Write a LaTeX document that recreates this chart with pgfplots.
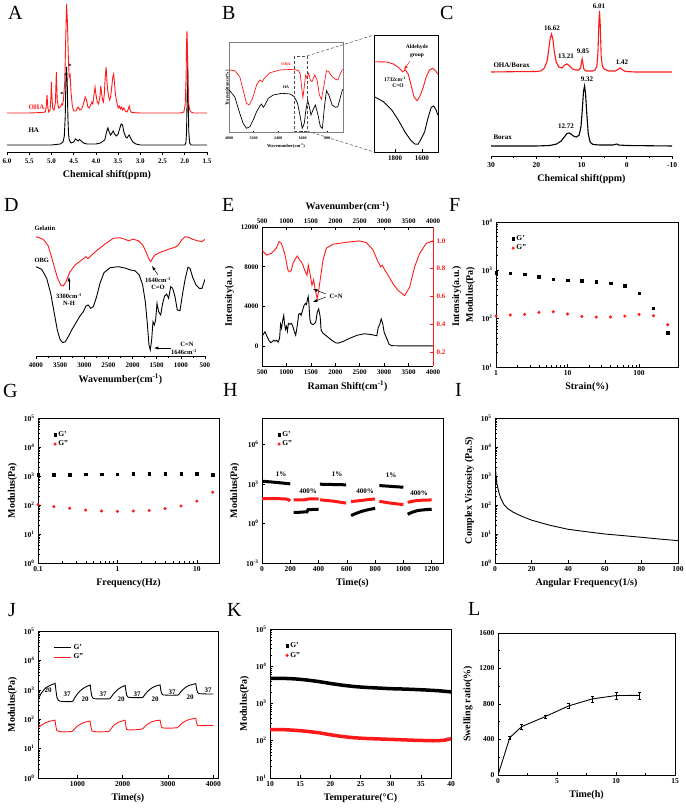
\documentclass[border=0pt]{standalone}
\usepackage{fontspec}
\setmainfont{Liberation Serif}
\usepackage{pgfplots}
\pgfplotsset{compat=1.18}
\definecolor{rd}{RGB}{255,25,25}
\newcommand{\tl}{\bfseries\fontsize{7.5}{8}\selectfont}
\newcommand{\ts}{\bfseries\fontsize{7}{8}\selectfont}
\newcommand{\al}{\bfseries\fontsize{10}{11}\selectfont}
\newcommand{\an}{\bfseries\fontsize{6.5}{7}\selectfont}
\newcommand{\pl}{\fontsize{20}{20}\selectfont}
\pgfplotsset{
  base/.style={scale only axis, anchor=south west,
    /pgf/number format/assume math mode=true,
    /pgf/number format/1000 sep={},
    scaled ticks=false,
    tick label style={font=\tl},
    label style={font=\al},
    axis line style={-, line width=0.8pt},
    tick style={black, line width=0.6pt},
    major tick length=3pt, minor tick length=1.8pt,
    xtick pos=bottom, ytick pos=left,
    legend style={draw=none, fill=none, font=\tl, row sep=-1pt, inner sep=1pt},
    legend cell align=left,
  },
  nmr/.style={base, axis x line*=bottom, axis y line=none, ytick=\empty, tick align=outside},
  bk/.style={black, line width=0.9pt},
  rl/.style={rd, line width=0.9pt},
  sq/.style={only marks, mark=square*, mark size=1.25pt, black},
  ci/.style={only marks, mark=*, mark size=1.35pt, rd},
}
\begin{document}
\begin{tikzpicture}[x=1pt,y=-1pt]
\useasboundingbox (0,0) rectangle (685,810);
% ---------------- A
\begin{axis}[nmr, at={(7pt,-152pt)}, width=200pt, height=148pt, xmin=1.5, xmax=6.0, x dir=reverse, ymin=0, ymax=148,
  xtick={1.5,2,...,6}, xticklabel={\pgfmathprintnumber[fixed,fixed zerofill,precision=1]{\tick}},
  tick label style={font=\ts}, xlabel={Chemical shift(ppm)}]
\addplot[bk] coordinates {(6.0,7)(5.0,7)(4.8,8)(4.74,10)(4.71,16)(4.69,35)(4.675,70)(4.66,85)(4.645,70)(4.63,35)(4.615,18)(4.60,12)(4.56,9)(4.5,10)(4.46,13)(4.43,12)(4.40,11)(4.37,12.5)(4.33,11)(4.28,9)(4.2,8)(4.0,8)(3.9,9)(3.8,12)(3.76,20)(3.73,24)(3.70,20)(3.67,17)(3.64,19)(3.61,21)(3.58,18)(3.54,16)(3.50,18)(3.46,24)(3.43,28)(3.40,27)(3.37,20)(3.33,15)(3.30,14)(3.27,16)(3.25,17)(3.22,14)(3.17,10)(3.1,8)(3.0,7)(2.5,7)(2.0,7)(1.975,9)(1.96,20)(1.945,60)(1.935,90)(1.925,60)(1.91,20)(1.89,9)(1.86,7)(1.5,7)};
\addplot[rl] coordinates {(6.0,39)(5.5,39)(5.2,39.5)(5.14,40)(5.12,44)(5.10,57)(5.08,44)(5.06,40)(5.03,42)(5.01,56)(5.00,70)(4.99,56)(4.97,43)(4.94,42)(4.91,50)(4.89,80)(4.87,52)(4.84,44)(4.80,45)(4.77,48)(4.75,47)(4.73,52)(4.70,70)(4.68,110)(4.66,148)(4.64,130)(4.62,95)(4.60,75)(4.58,77)(4.56,60)(4.53,46)(4.50,41)(4.45,41)(4.40,45)(4.36,42)(4.32,43)(4.28,48)(4.24,55)(4.21,52)(4.18,45)(4.15,44)(4.12,47)(4.09,50)(4.07,48)(4.04,58)(4.02,65)(4.00,58)(3.97,50)(3.94,48)(3.91,55)(3.89,66)(3.87,58)(3.85,52)(3.83,50)(3.81,58)(3.79,75)(3.77,85)(3.75,70)(3.73,60)(3.71,55)(3.69,52)(3.67,55)(3.65,62)(3.62,75)(3.60,78)(3.58,68)(3.56,58)(3.54,52)(3.52,48)(3.50,44)(3.47,46)(3.45,43)(3.42,45)(3.40,42)(3.37,44)(3.34,41)(3.30,40)(3.27,43)(3.25,46)(3.23,42)(3.20,39.5)(3.0,39)(2.5,39)(2.1,39)(2.02,40)(1.99,48)(1.97,75)(1.96,110)(1.95,121)(1.94,105)(1.93,70)(1.91,48)(1.89,42)(1.86,40)(1.8,39)(1.5,39)};
\end{axis}
\node[font=\an] at (62,94) {*};
\node[font=\an] at (66,75) {*};
\node[font=\an] at (70,66) {*};
\node[font=\ts, rd, anchor=west] at (25,107) {OHA};
\node[font=\ts, anchor=west] at (25,130) {HA};
% ---------------- B main
\begin{axis}[base, at={(229pt,-133pt)}, width=114pt, height=90pt, xmin=280, xmax=4000, x dir=reverse, ymin=0, ymax=90, ytick=\empty,
  xtick={800,1600,2400,3200,4000}, axis line style={gray, line width=1pt},
  tick label style={font=\bfseries\fontsize{4}{4}\selectfont}, major tick length=1.5pt,
  xlabel={Wavenumber(cm\textsuperscript{-1})}, ylabel={Transmittance(\%)},
  label style={font=\bfseries\fontsize{4.5}{5}\selectfont}, xlabel style={yshift=3pt}, ylabel style={yshift=-4pt}]
\addplot[rd, line width=0.7pt] coordinates {(4000,63)(3813,62.3)(3648,56.3)(3539,43)(3429,29.7)(3342,28)(3232,34.7)(3100,48)(2991,53)(2915,51.3)(2849,54.7)(2662,60.3)(2333,63)(1895,63.7)(1730,62.3)(1675,59)(1632,46.3)(1588,35.3)(1544,46.3)(1500,58)(1456,54.7)(1402,59.7)(1347,53)(1292,51.3)(1205,58)(1127,53)(1051,38)(985,33.7)(908,46.3)(820,62.3)(743,61.3)(634,56.3)(525,53.7)(448,53)(360,59.7)(294,63.7)};
\addplot[black, line width=0.7pt] coordinates {(4000,43)(3813,36.3)(3648,19.7)(3539,9.7)(3429,4.7)(3320,6.3)(3210,13)(3100,21.3)(2991,27)(2937,29)(2882,25.7)(2827,28)(2717,34.7)(2552,38)(2278,39.7)(2004,39)(1873,36.3)(1763,29.7)(1675,16.3)(1610,4.7)(1544,9.7)(1490,23)(1434,33)(1380,26.3)(1325,18)(1259,23)(1183,28)(1095,18)(1018,6.3)(952,4.7)(886,26.3)(820,42.3)(743,38)(634,28)(525,25.7)(448,26.3)(360,36.3)(294,43.7)};
\end{axis}
\node[font=\bfseries\fontsize{4}{4}\selectfont, rd] at (286,64) {OHA};
\node[font=\bfseries\fontsize{4}{4}\selectfont] at (286,87) {HA};
\draw[densely dashed, line width=0.5pt, black!70] (294,56) rectangle (307,131);
\draw[densely dashed, line width=0.5pt, black!70] (307,56)--(374,35) (307,131)--(374,152);
% ---------------- B zoom
\begin{axis}[base, at={(374pt,-152pt)}, width=64pt, height=117pt, xmin=1481, xmax=1956, x dir=reverse, ymin=0, ymax=117, ytick=\empty,
  xtick={1600,1800}, tick label style={font=\ts}, axis line style={line width=0.7pt}]
\addplot[rl] coordinates {(1954,90.3)(1861,90)(1812,88)(1776,84.7)(1744,80.3)(1724,82)(1702,78)(1678,65.3)(1659,55.3)(1637,51.3)(1617,55.3)(1593,63.7)(1568,75.3)(1544,82)(1519,83.7)(1500,81.3)(1483,78)};
\addplot[bk] coordinates {(1954,55.3)(1886,50.3)(1824,42)(1776,32)(1727,20.3)(1685,12)(1653,8)(1629,7.7)(1604,13.7)(1580,20.3)(1556,33.7)(1531,44.7)(1514,46)(1495,42)(1483,37)};
\end{axis}
\node[font=\bfseries\fontsize{5.5}{6}\selectfont] at (417,47) {Aldehyde};
\node[font=\bfseries\fontsize{5.5}{6}\selectfont] at (417,56) {group};
\draw[rd, -latex, line width=0.5pt] (410,61)--(404,70);
\node[font=\bfseries\fontsize{5.5}{6}\selectfont] at (395,79) {1732cm\textsuperscript{-1}};
\node[font=\bfseries\fontsize{5.5}{6}\selectfont] at (398,86) {C=O};
% ---------------- C
\begin{axis}[nmr, at={(491pt,-156pt)}, width=181pt, height=150pt, xmin=-10, xmax=30, x dir=reverse, ymin=0, ymax=150,
  xtick={-10,0,10,20,30}, minor x tick num=1, xlabel={Chemical shift(ppm)}]
\addplot[rd, line width=1.1pt] coordinates {(30,84)(25,84.3)(20,84.5)(19,85)(18.2,88)(17.6,95)(17.2,108)(16.9,118)(16.62,122)(16.3,116)(16.0,104)(15.6,94)(15.0,89)(14.3,88)(13.7,91)(13.21,92)(12.6,90)(12.0,87)(11.3,86)(10.6,86)(10.2,88)(9.95,95)(9.85,97)(9.7,93)(9.5,87)(9,85)(7.5,85)(7,86)(6.6,90)(6.35,105)(6.15,135)(6.01,145)(5.85,130)(5.65,100)(5.4,90)(5,87)(4,85)(2.5,85)(2,86.5)(1.42,88)(0.9,86)(0.3,84.5)(-2,84)(-10,84)};
\addplot[black, line width=1.1pt] coordinates {(30,10)(20,10)(17,10.5)(15.5,12)(14.5,15)(13.8,19)(13.2,22.5)(12.72,23)(12.2,21.5)(11.6,19.5)(11.1,19)(10.5,21)(10.1,30)(9.8,48)(9.55,65)(9.32,70)(9.1,62)(8.8,40)(8.5,22)(8.1,14)(7.5,11.5)(6,11)(3,11)(2.2,12)(1.8,11)(0,10.5)(-10,10)};
\end{axis}
\node[font=\ts] at (552,28) {16.62};
\node[font=\ts] at (566,56) {13.21};
\node[font=\ts] at (583,51) {9.85};
\node[font=\ts] at (599,6) {6.01};
\node[font=\ts] at (622,62) {1.42};
\node[font=\ts] at (587,79) {9.32};
\node[font=\ts] at (566,126) {12.72};
\node[font=\ts, anchor=west] at (490,65) {OHA/Borax};
\node[font=\ts, anchor=west] at (490,137) {Borax};
% ---------------- D
\begin{axis}[nmr, at={(36pt,-356pt)}, width=169pt, height=140pt, xmin=500, xmax=4000, x dir=reverse, ymin=0, ymax=140,
  xtick={500,1000,...,4000}, minor x tick num=1, tick label style={font=\ts}, xlabel={Wavenumber(cm\textsuperscript{-1})}]
\addplot[rl] coordinates {(4000,119.3)(3849,116.7)(3745,110)(3641,92.7)(3559,78.7)(3489,71)(3434,70)(3379,74.3)(3296,84.3)(3192,91)(3054,96)(2965,99.3)(2923,97.3)(2868,100)(2744,105.3)(2571,112)(2399,117.7)(2260,118.3)(2157,116.7)(2088,115.3)(1985,116.7)(1881,115.3)(1791,111)(1722,104.3)(1667,97.7)(1625,94.3)(1584,97.7)(1536,101)(1467,102.7)(1397,104.3)(1328,105.3)(1260,106.7)(1190,107.7)(1121,108.7)(1053,111)(984,116)(914,119.3)(846,118.7)(755,116.7)(660,115.3)(569,114.3)(500,116.7)};
\addplot[bk] coordinates {(4000,89.3)(3882,86.7)(3779,77.7)(3696,62.7)(3621,42.7)(3559,26)(3503,16.7)(3448,13.3)(3393,14.3)(3331,19.3)(3261,26)(3172,33.3)(3089,40)(3020,44.3)(2965,50)(2917,51)(2868,47.7)(2813,49.3)(2744,59.3)(2675,72.7)(2592,83.3)(2467,88.3)(2295,89.3)(2136,87.7)(2039,86)(1950,85.3)(1861,81)(1791,71)(1736,54.3)(1695,32.7)(1660,11)(1633,6)(1605,16)(1577,34.3)(1550,31)(1522,36)(1494,52.7)(1460,44.3)(1418,41)(1377,52.7)(1336,60)(1294,62)(1253,57.7)(1211,69.3)(1170,67.7)(1121,59.3)(1074,46)(1018,45.3)(963,62.7)(908,77.7)(852,88.7)(811,87.7)(755,78.7)(686,71)(618,67.7)(562,67.7)(500,76.7)};
\end{axis}
\node[font=\an, anchor=west] at (31,228) {Gelatin};
\node[font=\an, anchor=west] at (31,260) {OBG};
\draw[-latex, line width=0.5pt] (69,290)--(69,277);
\node[font=\an] at (69,296) {3300cm\textsuperscript{-1}};
\node[font=\an] at (69,303) {N-H};
\draw[-latex, line width=0.5pt] (158,275)--(152,266);
\node[font=\an] at (158,280) {1640cm\textsuperscript{-1}};
\node[font=\an] at (158,287) {C=O};
\draw[-latex, line width=0.5pt] (171,348)--(154,348);
\node[font=\an] at (187,344) {C=N};
\node[font=\an] at (184,352) {1646cm\textsuperscript{-1}};
% ---------------- E
\begin{axis}[base, at={(262pt,-366pt)}, width=171pt, height=139pt, xmin=500, xmax=4000, ymin=-2000, ymax=12000,
  axis x line*=bottom, axis y line*=left, xtick={500,1000,...,4000}, ytick={0,4000,8000,12000},
  tick label style={font=\ts},
  xlabel={Raman Shift(cm\textsuperscript{-1})}, ylabel={Intensity(a.u.)}]
\addplot[bk] coordinates {(500,1000)(530,1200)(560,1450)(590,1100)(620,800)(650,500)(680,350)(710,450)(740,600)(770,500)(800,600)(830,400)(860,800)(880,2200)(900,1800)(920,2500)(945,3100)(960,2300)(980,1700)(1000,2000)(1020,1500)(1040,2300)(1070,2200)(1100,2300)(1130,2000)(1160,1500)(1190,1100)(1220,2000)(1250,3200)(1280,3300)(1300,3100)(1330,3600)(1360,4100)(1390,4300)(1410,4200)(1430,4700)(1445,5000)(1460,4300)(1480,2700)(1500,2300)(1530,2200)(1560,2200)(1600,2400)(1630,3400)(1660,3750)(1690,3000)(1710,1600)(1750,1300)(1800,1100)(1900,700)(2000,350)(2050,300)(2150,450)(2300,800)(2450,1100)(2600,1250)(2750,1150)(2850,1050)(2880,1900)(2910,2200)(2940,2750)(2970,2300)(3000,1400)(3050,800)(3100,200)(3150,50)(3300,30)(3600,30)(4000,30)};
\end{axis}
\begin{axis}[base, at={(262pt,-366pt)}, width=171pt, height=139pt, xmin=500, xmax=4000, ymin=0.1, ymax=1.1,
  axis x line*=top, axis y line*=right, xtick pos=top, ytick pos=right, xtick={500,1000,...,4000}, ytick={0.2,0.4,...,1.0},
  tick label style={font=\ts},
  yticklabel={\pgfmathprintnumber[fixed,fixed zerofill,precision=1]{\tick}},
  y axis line style={rd}, ytick style={rd}, yticklabel style={rd},
  xlabel={Wavenumber(cm\textsuperscript{-1})}, ylabel={Intensity(a.u.)}]
\addplot[rl] coordinates {(500,0.935)(589,0.898)(691,0.910)(793,0.947)(848,0.995)(896,0.983)(964,0.910)(1032,0.789)(1066,0.777)(1100,0.789)(1134,0.838)(1189,0.874)(1223,0.891)(1271,0.862)(1305,0.850)(1339,0.825)(1373,0.789)(1421,0.753)(1448,0.825)(1489,0.753)(1523,0.680)(1557,0.721)(1591,0.644)(1632,0.583)(1680,0.692)(1748,0.862)(1817,0.947)(1953,0.976)(2226,0.990)(2499,1.0)(2635,0.988)(2772,0.935)(2874,0.850)(2928,0.813)(2963,0.825)(2997,0.801)(3079,0.753)(3181,0.692)(3283,0.644)(3420,0.607)(3522,0.668)(3624,0.813)(3727,0.910)(3863,0.983)(4000,1.0)};
\end{axis}
\draw[-latex, line width=0.5pt] (326,294)--(313,289);
\draw[-latex, line width=0.5pt] (326,297)--(313,302);
\node[font=\an, anchor=west] at (326,296) {C=N};
% ---------------- F
\begin{axis}[base, at={(496pt,-367pt)}, width=182pt, height=145pt, xmode=log, ymode=log, xmin=1, xmax=350, ymin=10, ymax=10000,
  xtick={1,10,100}, xticklabels={1,10,100}, ytick={10,100,1000,10000},
  yticklabels={10\textsuperscript{1},10\textsuperscript{2},10\textsuperscript{3},10\textsuperscript{4}},
  xlabel={Strain(\%)}, ylabel={Modulus(Pa)}, legend style={at={(0.08,0.93)}, anchor=north west}]
\addplot[sq] coordinates {(1,893)(1.585,865)(2.512,826)(3.981,738)(6.31,661)(10,630)(15.85,610)(25.12,582)(39.81,537)(63.1,481)(100,334)(158.5,163)(251.2,51)};
\addplot[ci] coordinates {(1,113)(1.585,119)(2.512,123)(3.981,135)(6.31,139)(10,125)(15.85,111)(25.12,108)(39.81,108)(63.1,113)(100,123)(158.5,115)(251.2,75)};
\legend{G',G''}
\end{axis}
% ---------------- G
\begin{axis}[base, at={(38pt,-563pt)}, width=181pt, height=145pt, xmode=log, ymode=log, xmin=0.1, xmax=19, ymin=1, ymax=100000,
  xtick={0.1,1,10}, xticklabels={0.1,1,10}, ytick={1,10,100,1000,10000,100000},
  yticklabels={10\textsuperscript{0},10\textsuperscript{1},10\textsuperscript{2},10\textsuperscript{3},10\textsuperscript{4},10\textsuperscript{5}},
  xlabel={Frequency(Hz)}, ylabel={Modulus(Pa)}, legend style={at={(0.08,0.93)}, anchor=north west}]
\addplot[sq] coordinates {(0.1,1100)(0.1585,1130)(0.2512,1130)(0.3981,1140)(0.631,1150)(1,1170)(1.585,1180)(2.512,1190)(3.981,1190)(6.31,1200)(10,1180)(15.85,1100)};
\addplot[ci] coordinates {(0.1,105)(0.1585,88)(0.2512,77)(0.3981,67)(0.631,62)(1,60.5)(1.585,62)(2.512,65)(3.981,75)(6.31,92)(10,137)(15.85,274)};
\legend{G',G''}
\end{axis}
% ---------------- H
\begin{axis}[base, at={(262pt,-563pt)}, width=181pt, height=145pt, ymode=log, xmin=0, xmax=1280, ymin=0.001, ymax=1e8,
  xtick={0,200,...,1200}, ytick={0.001,1,1000,1000000},
  yticklabels={10\textsuperscript{-3},10\textsuperscript{0},10\textsuperscript{3},10\textsuperscript{6}},
  xlabel={Time(s)}, ylabel={Modulus(Pa)}, legend style={at={(0.08,0.93)}, anchor=north west}]
\addlegendimage{sq}
\addlegendimage{ci}
\legend{G',G''}
\addplot[black, line width=3pt] coordinates {(0,1600)(50,1450)(100,1300)(150,1150)(200,1000)};
\addplot[black, line width=3pt] coordinates {(224,7)(260,7)(300,7.5)(318,7.5)(325,11)(360,11.5)(400,12)};
\addplot[black, line width=3pt] coordinates {(410,950)(450,930)(500,900)(550,880)(595,850)};
\addplot[black, line width=3pt] coordinates {(630,4)(660,5.5)(700,8)(750,11)(800,14)};
\addplot[black, line width=3pt] coordinates {(830,750)(870,700)(920,640)(970,590)(1000,560)};
\addplot[black, line width=3pt] coordinates {(1030,5)(1060,7)(1100,9.5)(1150,11)(1200,12)};
\addplot[rd, line width=3pt] coordinates {(0,75)(100,76)(160,74)(185,65)(200,52)};
\addplot[rd, line width=3pt] coordinates {(224,61)(300,62)(330,72)(400,72)};
\addplot[rd, line width=3pt] coordinates {(410,62)(500,50)(560,40)(595,35)};
\addplot[rd, line width=3pt] coordinates {(630,46)(700,55)(750,65)(800,72)};
\addplot[rd, line width=3pt] coordinates {(830,48)(900,36)(960,30)(1000,27)};
\addplot[rd, line width=3pt] coordinates {(1030,40)(1080,52)(1130,58)(1200,61)};
\end{axis}
\node[font=\ts] at (281,474) {1\%};
\node[font=\ts] at (308,491) {400\%};
\node[font=\ts] at (337,474) {1\%};
\node[font=\ts] at (365,491) {400\%};
\node[font=\ts] at (391,475) {1\%};
\node[font=\ts] at (419,493) {400\%};
% ---------------- I
\begin{axis}[base, at={(495pt,-563pt)}, width=183pt, height=145pt, ymode=log, xmin=0, xmax=100, ymin=1, ymax=100000,
  xtick={0,20,...,100}, ytick={1,10,100,1000,10000,100000},
  yticklabels={10\textsuperscript{0},10\textsuperscript{1},10\textsuperscript{2},10\textsuperscript{3},10\textsuperscript{4},10\textsuperscript{5}},
  xlabel={Angular Frequency(1/s)}, ylabel={Complex Viscosity (Pa.S)}]
\addplot[bk] coordinates {(0.1,3500)(0.3,2000)(0.5,1100)(1,560)(2,290)(3,180)(5,100)(7,75)(10,56)(15,40)(20,30)(30,20)(40,14.5)(50,12)(60,10)(70,8.8)(80,7.7)(90,6.7)(100,5.9)};
\end{axis}
% ---------------- J
\begin{axis}[base, at={(38pt,-778pt)}, width=180pt, height=147pt, ymode=log, xmin=132, xmax=4104, ymin=1, ymax=100000,
  xtick={1000,2000,3000,4000}, ytick={1,10,100,1000,10000,100000},
  yticklabels={10\textsuperscript{0},10\textsuperscript{1},10\textsuperscript{2},10\textsuperscript{3},10\textsuperscript{4},10\textsuperscript{5}},
  xlabel={Time(s)}, ylabel={Modulus(Pa)}, legend style={at={(0.08,0.93)}, anchor=north west}]
\addplot[bk] coordinates {(132,420)(160,560)(200,750)(250,950)(300,1130)(350,1300)(400,1420)(450,1530)(500,1620)(510,1650)(530,900)(550,550)(580,440)(620,410)(700,400)(800,395)(876,400)(900,410)(950,560)(1000,720)(1050,880)(1100,1030)(1150,1170)(1200,1290)(1260,1400)(1285,1450)(1300,900)(1320,600)(1350,510)(1400,495)(1500,490)(1600,490)(1700,495)(1720,500)(1770,640)(1820,800)(1870,950)(1920,1100)(1970,1230)(2030,1350)(2055,1400)(2070,950)(2090,650)(2120,560)(2200,545)(2300,540)(2420,545)(2450,560)(2500,720)(2550,880)(2600,1030)(2650,1170)(2700,1290)(2780,1420)(2826,1470)(2840,1000)(2860,750)(2890,670)(3000,655)(3100,655)(3200,660)(3230,670)(3280,850)(3330,1020)(3380,1180)(3430,1320)(3480,1430)(3550,1540)(3614,1620)(3630,1100)(3650,830)(3680,740)(3800,725)(3900,720)(4003,720)};
\addplot[rl] coordinates {(132,49)(200,62)(300,76)(400,86)(507,93)(525,60)(545,42)(600,38)(700,37)(876,38)(912,42)(1000,58)(1100,72)(1200,82)(1280,87)(1300,55)(1320,40)(1368,38)(1500,37)(1684,38)(1722,42)(1800,62)(1900,78)(2000,88)(2053,93)(2070,60)(2090,45)(2141,43)(2300,44)(2421,46)(2457,50)(2550,68)(2650,83)(2750,90)(2826,93)(2845,65)(2863,52)(2914,50)(3100,50)(3194,51)(3230,55)(3320,75)(3420,92)(3520,102)(3614,107)(3630,75)(3650,62)(3695,60)(3850,61)(4003,62)};
\legend{G',G''}
\end{axis}
\node[font=\ts] at (48,690) {20};
\node[font=\ts] at (67,694) {37};
\node[font=\ts] at (85,699) {20};
\node[font=\ts] at (103,694) {37};
\node[font=\ts] at (121,699) {20};
\node[font=\ts] at (137,694) {37};
\node[font=\ts] at (155,699) {20};
\node[font=\ts] at (172,692) {37};
\node[font=\ts] at (190,697) {20};
\node[font=\ts] at (208,690) {37};
% ---------------- K
\begin{axis}[base, at={(270pt,-778pt)}, width=181pt, height=149pt, ymode=log, xmin=10, xmax=40, ymin=10, ymax=100000,
  xtick={10,15,...,40}, ytick={10,100,1000,10000,100000},
  yticklabels={10\textsuperscript{1},10\textsuperscript{2},10\textsuperscript{3},10\textsuperscript{4},10\textsuperscript{5}},
  xlabel={Temperature(\textdegree C)}, ylabel={Modulus(Pa)}, legend style={at={(0.08,0.93)}, anchor=north west}]
\addlegendimage{sq}
\addlegendimage{ci}
\legend{G',G''}
\addplot[black, line width=3.5pt] coordinates {(10,4700)(12,4750)(14,4600)(16,4300)(18,3900)(20,3450)(22,3100)(24,2850)(26,2700)(28,2600)(30,2500)(32,2450)(34,2380)(36,2300)(38,2200)(40,2050)};
\addplot[rd, line width=3.5pt] coordinates {(10,200)(12,200)(14,192)(16,180)(18,165)(20,145)(22,130)(24,120)(26,115)(28,112)(30,109)(32,106)(34,103)(36,101)(37,100)(38,101)(39,104)(39.5,110)(40,112)};
\end{axis}
% ---------------- L
\begin{axis}[base, at={(498pt,-775pt)}, width=177pt, height=142pt, xmin=0, xmax=15, ymin=0, ymax=1600,
  xtick={0,5,10,15}, ytick={0,400,...,1600}, minor x tick num=1, minor y tick num=1,
  xlabel={Time(h)}, ylabel={Swelling ratio(\%)}]
\addplot[bk, error bars/.cd, y dir=both, y explicit, error bar style={line width=0.5pt}, error mark options={rotate=90, mark size=1.5pt}]
  coordinates {(0,0) +- (0,0) (1,421) +- (0,20) (2,545) +- (0,30) (4,658) +- (0,20) (6,779) +- (0,30) (8,858) +- (0,35) (10,895) +- (0,40) (12,898) +- (0,40)};
\end{axis}
% ---------------- panel letters
\node[anchor=north west, inner sep=0] at (8,6) {\pl A};
\node[anchor=north west, inner sep=0] at (222,6) {\pl B};
\node[anchor=north west, inner sep=0] at (440,6) {\pl C};
\node[anchor=north west, inner sep=0] at (4,198) {\pl D};
\node[anchor=north west, inner sep=0] at (222,198) {\pl E};
\node[anchor=north west, inner sep=0] at (449,198) {\pl F};
\node[anchor=north west, inner sep=0] at (3,384) {\pl G};
\node[anchor=north west, inner sep=0] at (223,383) {\pl H};
\node[anchor=north west, inner sep=0] at (455,383) {\pl I};
\node[anchor=north west, inner sep=0] at (8,603) {\pl J};
\node[anchor=north west, inner sep=0] at (227,603) {\pl K};
\node[anchor=north west, inner sep=0] at (468,602) {\pl L};
\end{tikzpicture}
\end{document}
